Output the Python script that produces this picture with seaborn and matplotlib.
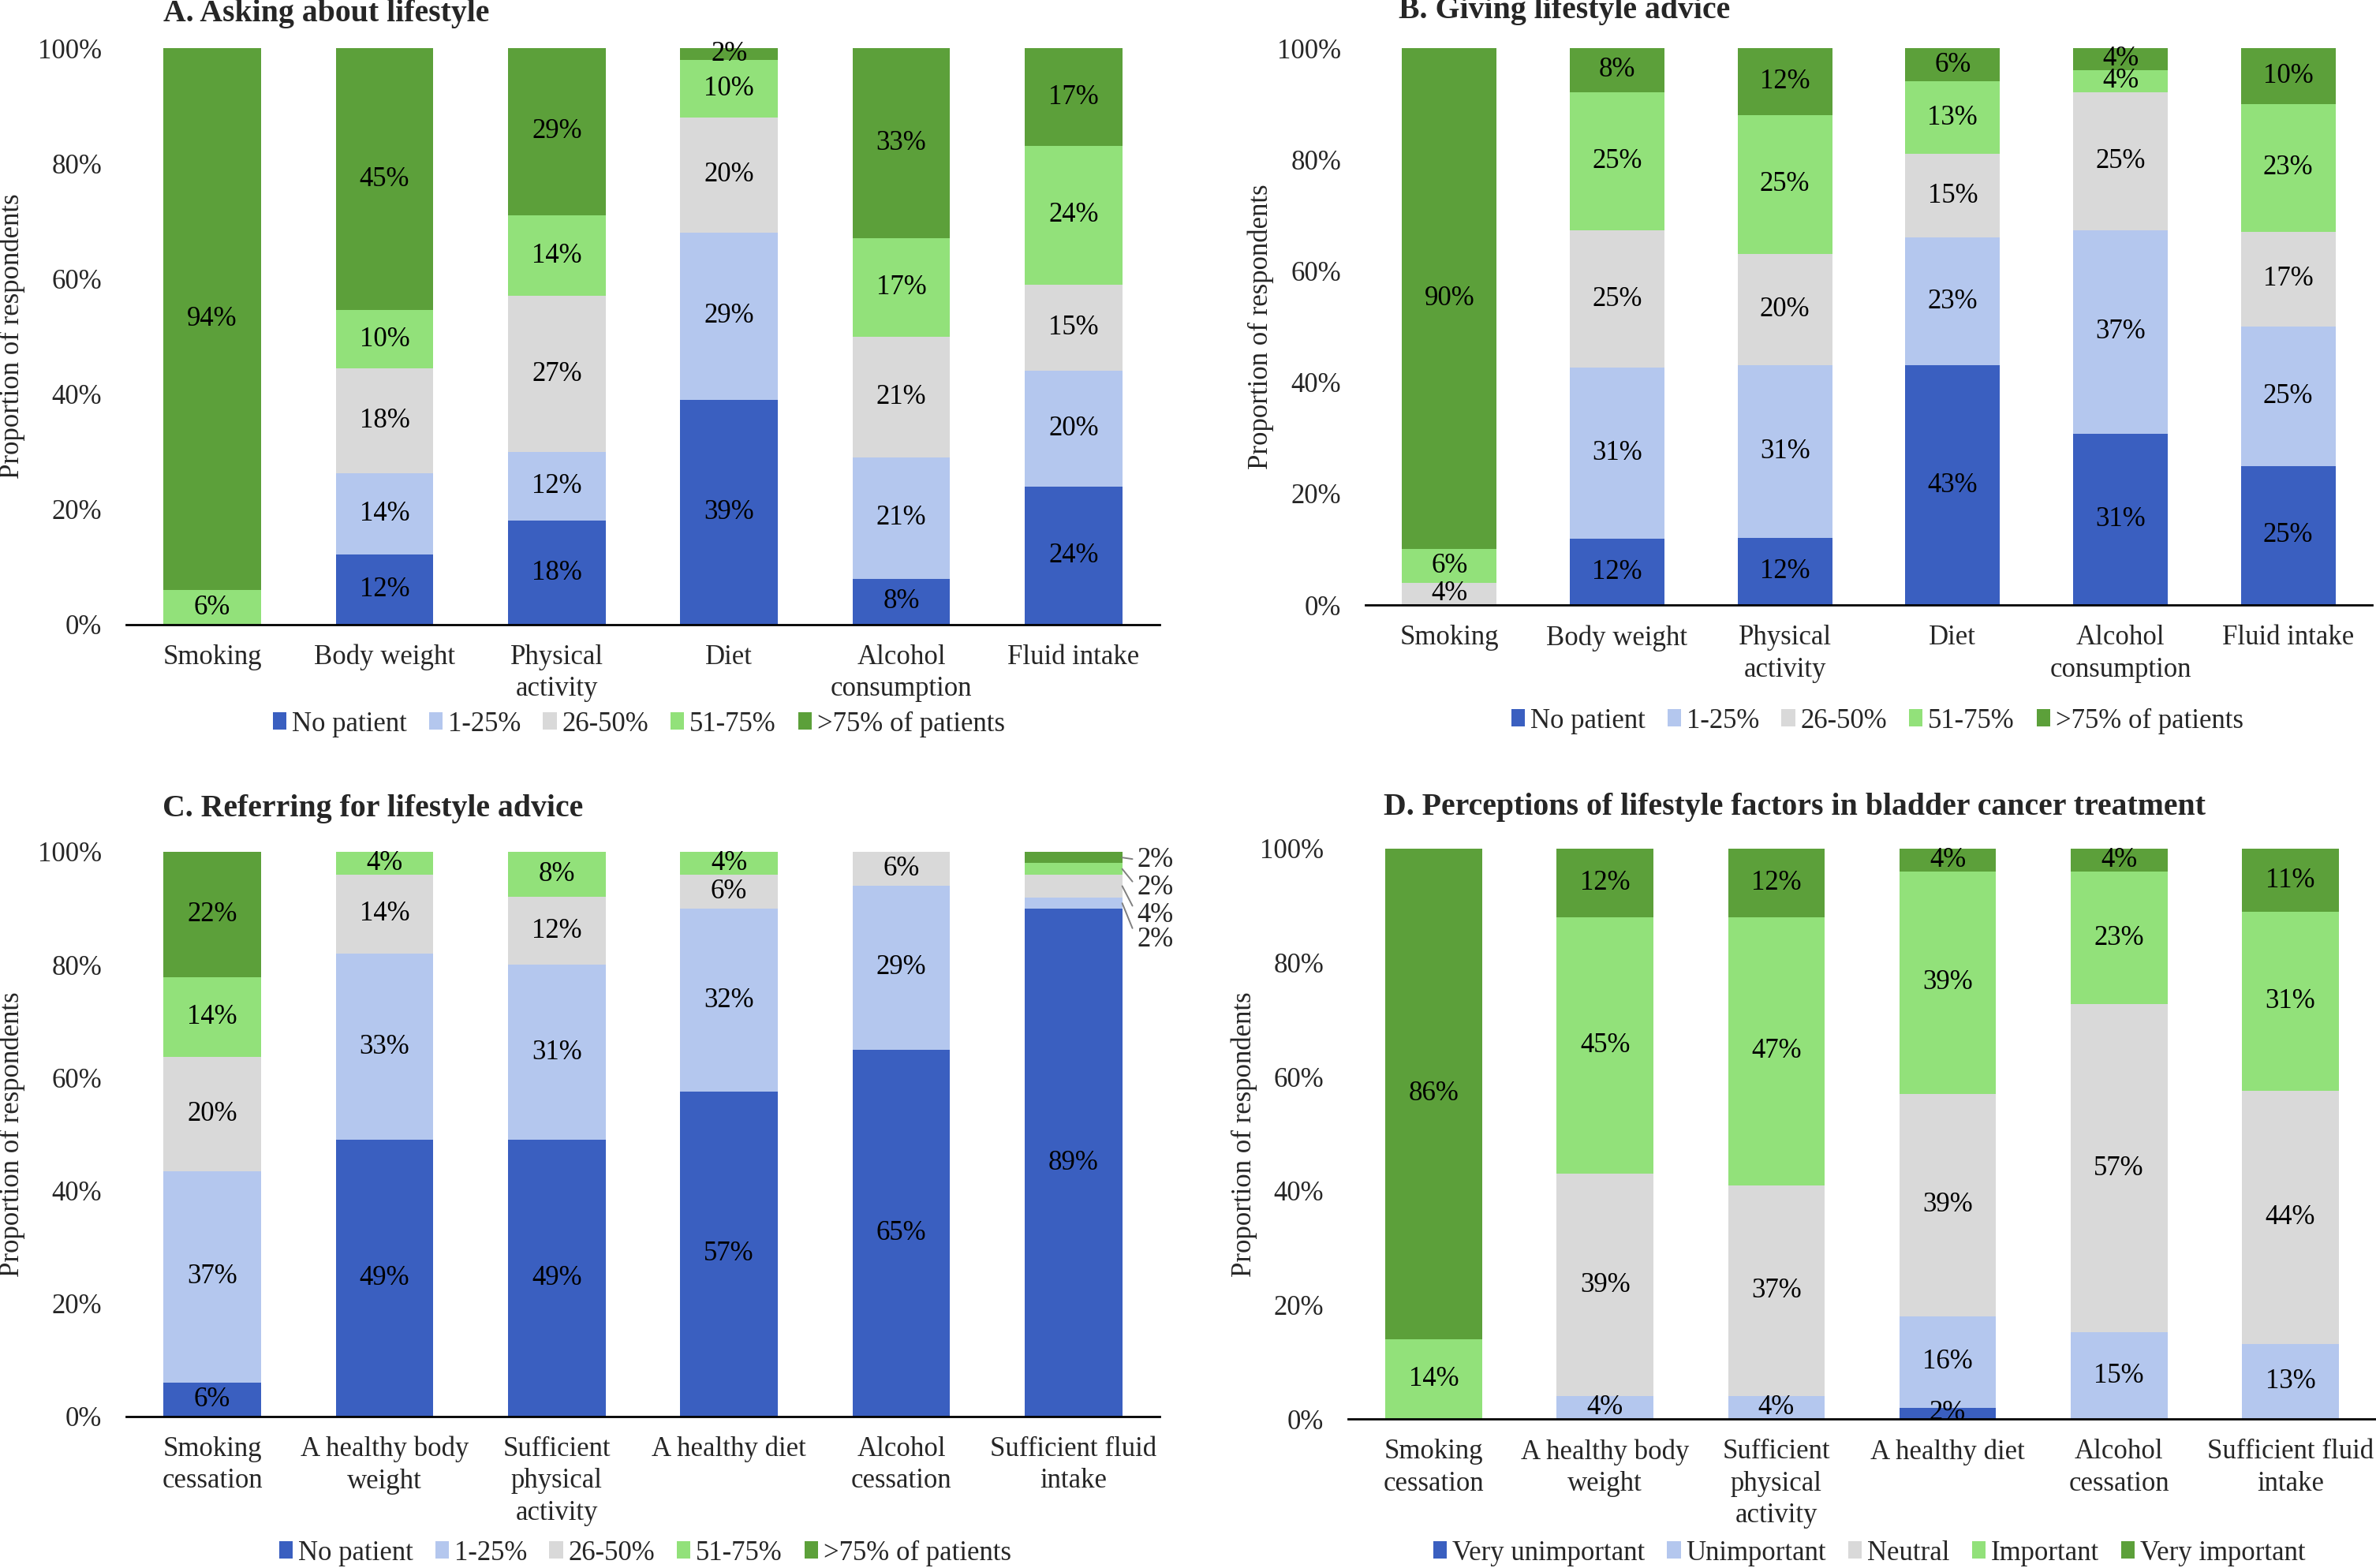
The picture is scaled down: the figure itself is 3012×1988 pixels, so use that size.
import numpy as np
import pandas as pd
import matplotlib
matplotlib.use("Agg")
import matplotlib.pyplot as plt
import seaborn as sns
from matplotlib.patches import Patch
from matplotlib.ticker import PercentFormatter

sns.set_theme(style="white")
plt.rcParams["font.family"] = ["Liberation Serif", "DejaVu Serif"]

# ---------------- data ----------------
cats_ab = ["Smoking", "Body weight", "Physical\nactivity", "Diet",
           "Alcohol\nconsumption", "Fluid intake"]
cats_cd = ["Smoking\ncessation", "A healthy body\nweight", "Sufficient\nphysical\nactivity",
           "A healthy diet", "Alcohol\ncessation", "Sufficient fluid\nintake"]
freq_levels = ["No patient", "1-25%", "26-50%", "51-75%", ">75% of patients"]
imp_levels = ["Very unimportant", "Unimportant", "Neutral", "Important", "Very important"]
colors = ["#3A5FC0", "#B4C7EE", "#D9D9D9", "#92E17A", "#5CA03A"]

# A. Asking about lifestyle
a_no = [0, 12, 18, 39, 8, 24]
a_1_25 = [0, 14, 12, 29, 21, 20]
a_26_50 = [0, 18, 27, 20, 21, 15]
a_51_75 = [6, 10, 14, 10, 17, 24]
a_gt75 = [94, 45, 29, 2, 33, 17]

# B. Giving lifestyle advice
b_no = [0, 12, 12, 43, 31, 25]
b_1_25 = [0, 31, 31, 23, 37, 25]
b_26_50 = [4, 25, 20, 15, 25, 17]
b_51_75 = [6, 25, 25, 13, 4, 23]
b_gt75 = [90, 8, 12, 6, 4, 10]

# C. Referring for lifestyle advice
c_no = [6, 49, 49, 57, 65, 89]
c_1_25 = [37, 33, 31, 32, 29, 2]
c_26_50 = [20, 14, 12, 6, 6, 4]
c_51_75 = [14, 4, 8, 4, 0, 2]
c_gt75 = [22, 0, 0, 0, 0, 2]

# D. Perceptions of lifestyle factors
d_vu = [0, 0, 0, 2, 0, 0]
d_u = [0, 4, 4, 16, 15, 13]
d_n = [0, 39, 37, 39, 57, 44]
d_i = [14, 45, 47, 39, 23, 31]
d_vi = [86, 12, 12, 4, 4, 11]

W, H = 3012, 1988
fig = plt.figure(figsize=(W / 200, H / 200), dpi=200)

FS = 12.5


def make_axes(left, right, top, bottom):
    return fig.add_axes([left / W, 1 - bottom / H, (right - left) / W, (bottom - top) / H])


def draw_panel(ax, cats, series, levels, outside_last=False):
    vals = np.array(series, dtype=float)  # levels x cats
    totals = vals.sum(axis=0)
    heights = vals / totals * 100
    cum = np.cumsum(heights, axis=0)
    # draw cumulative bars from the top down so they stack visually
    for i in range(len(levels) - 1, -1, -1):
        df = pd.DataFrame({"cat": cats, "val": cum[i]})
        sns.barplot(data=df, x="cat", y="val", order=cats, color=colors[i],
                    saturation=1, width=0.565, errorbar=None, linewidth=0, ax=ax)
    # value labels
    for j in range(len(cats)):
        for i in range(len(levels)):
            v = vals[i, j]
            if v <= 0:
                continue
            base = cum[i, j] - heights[i, j]
            yc = base + heights[i, j] / 2
            if outside_last and j == len(cats) - 1 and i > 0:
                continue
            ax.text(j, yc, f"{int(v)}%", ha="center", va="center", fontsize=FS, color="black")
    if outside_last:
        j = len(cats) - 1
        ylab = {4: 98.6, 3: 93.7, 2: 88.8, 1: 84.4}
        for i in range(1, len(levels)):
            v = vals[i, j]
            yc = cum[i, j] - heights[i, j] / 2
            ax.annotate(f"{int(v)}%", xy=(j + 0.283, yc), xytext=(j + 0.37, ylab[i]),
                        ha="left", va="center", fontsize=FS, annotation_clip=False,
                        arrowprops=dict(arrowstyle="-", color="#7F7F7F", lw=0.7,
                                        shrinkA=0, shrinkB=0, relpos=(0, 0.5)))
    ax.set_xlim(-0.5, len(cats) - 0.5)
    ax.set_ylim(0, 100)
    ax.set_yticks([0, 20, 40, 60, 80, 100])
    ax.yaxis.set_major_formatter(PercentFormatter(decimals=0))
    ax.set_xlabel("")
    ax.set_ylabel("")
    for s in ["top", "right", "left"]:
        ax.spines[s].set_visible(False)
    ax.spines["bottom"].set_color("black")
    ax.spines["bottom"].set_linewidth(1.0)
    ax.tick_params(axis="both", length=0, labelsize=FS)
    ax.tick_params(axis="x", pad=9)
    ax.tick_params(axis="y", pad=11)
    for lab in ax.get_xticklabels():
        lab.set_linespacing(1.3)


def add_legend(levels, cx, cy):
    handles = [Patch(facecolor=colors[i], edgecolor="none", label=levels[i]) for i in range(len(levels))]
    fig.legend(handles=handles, loc="center", bbox_to_anchor=(cx / W, 1 - cy / H),
               ncol=len(levels), frameon=False, fontsize=FS, handlelength=0.5,
               handleheight=0.6, handletextpad=0.2, columnspacing=0.8, borderaxespad=0)


TFS = 14.3

# Panel A
axA = make_axes(160, 1470, 61, 792)
draw_panel(axA, cats_ab, [a_no, a_1_25, a_26_50, a_51_75, a_gt75], freq_levels)
add_legend(freq_levels, 810, 918)
fig.text(207 / W, 1 - 17 / H, "A. Asking about lifestyle", fontsize=TFS, fontweight="bold",
         ha="left", va="center")
fig.text(15 / W, 1 - 426 / H, "Proportion of respondents", rotation=90, fontsize=FS,
         ha="center", va="center")

# Panel B
axB = make_axes(1731, 3007, 61, 767)
draw_panel(axB, cats_ab, [b_no, b_1_25, b_26_50, b_51_75, b_gt75], freq_levels)
add_legend(freq_levels, 2380, 914)
fig.text(1773 / W, 1 - 13 / H, "B. Giving lifestyle advice", fontsize=TFS, fontweight="bold",
         ha="left", va="center")
fig.text(1598 / W, 1 - 414 / H, "Proportion of respondents", rotation=90, fontsize=FS,
         ha="center", va="center")

# Panel C
axC = make_axes(160, 1470, 1080, 1796)
draw_panel(axC, cats_cd, [c_no, c_1_25, c_26_50, c_51_75, c_gt75], freq_levels, outside_last=True)
add_legend(freq_levels, 818, 1969)
fig.text(206 / W, 1 - 1025 / H, "C. Referring for lifestyle advice", fontsize=TFS, fontweight="bold",
         ha="left", va="center")
fig.text(15 / W, 1 - 1438 / H, "Proportion of respondents", rotation=90, fontsize=FS,
         ha="center", va="center")

# Panel D
axD = make_axes(1709, 3012, 1076, 1799)
draw_panel(axD, cats_cd, [d_vu, d_u, d_n, d_i, d_vi], imp_levels)
add_legend(imp_levels, 2370, 1969)
fig.text(1754 / W, 1 - 1024 / H, "D. Perceptions of lifestyle factors in bladder cancer treatment",
         fontsize=TFS, fontweight="bold", ha="left", va="center")
fig.text(1577 / W, 1 - 1438 / H, "Proportion of respondents", rotation=90, fontsize=FS,
         ha="center", va="center")

fig.savefig("out.png", dpi=200, facecolor="white")
